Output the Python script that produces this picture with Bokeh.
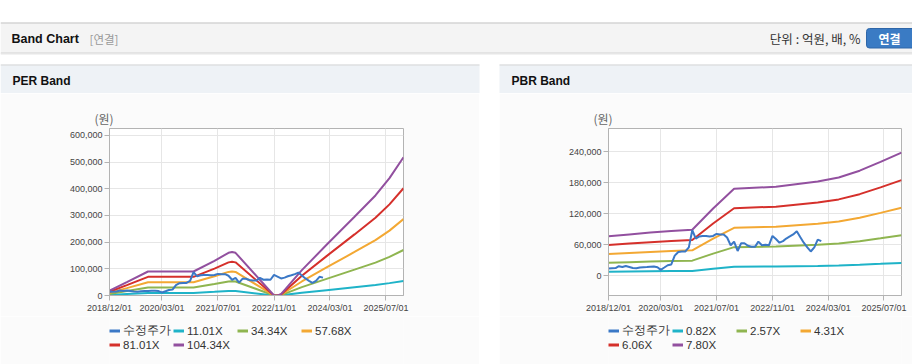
import pandas as pd
from bokeh.plotting import figure
from bokeh.models import (Range1d, FixedTicker, DatetimeTickFormatter, NumeralTickFormatter,
                          Legend, LegendItem, Spacer)
from bokeh.layouts import column, row
from bokeh.embed import file_html
from bokeh.resources import INLINE
from bokeh.core.properties import value

# ---------------- data ----------------
price_start = "2018-12-01"
price_values = [14000, 14500, 15000, 18500, 17000, 19000, 17000, 15000, 14500, 16000,
                16500, 17000, 17500, 18000, 16500, 11500, 16000, 20500, 22000, 39000,
                46000, 47000, 47000, 55000, 88000, 72000, 76000, 77000, 77000, 76000,
                77000, 81000, 80000, 80000, 74000, 59000, 66000, 48000, 63000, 63000,
                58000, 56000, 56000, 66000, 59000, 60000, 59000, 77000, 71000, 64000,
                67000, 72000, 76000, 80000, 86000, 75000, 64000, 55000, 47000, 55000,
                70000, 67000]

per_dates = ["2018-12-01", "2019-05-01", "2019-11-01", "2020-12-01", "2021-06-01", "2021-10-01",
             "2021-11-01", "2021-12-01", "2022-11-01", "2022-12-01", "2023-01-01", "2023-07-01",
             "2024-02-01", "2024-10-01", "2025-04-01", "2025-08-01", "2025-12-01"]
per_11_01x = [1900, 5300, 9500, 9500, 13700, 16900, 17200, 16900, 0, 0, 500, 10000,
              20000, 31100, 39600, 46400, 54600]
per_34_34x = [5900, 16500, 29600, 29600, 42800, 52700, 53600, 52700, 0, 0, 1600, 31300,
              62500, 97100, 123400, 144800, 170500]
per_57_68x = [9950, 27600, 49800, 49800, 71900, 88400, 90100, 88400, 0, 0, 2800, 52500,
              105000, 163100, 207300, 243200, 286400]
per_81_01x = [14000, 38800, 69900, 69900, 100900, 124200, 126600, 124200, 0, 0, 3900, 73800,
              147500, 229000, 291200, 341600, 402200]
per_104_34x = [18000, 50000, 90000, 90000, 130000, 160000, 163000, 160000, 0, 0, 5000, 95000,
               190000, 295000, 375000, 440000, 518000]

pbr_dates = ["2018-12-01", "2019-06-01", "2019-12-01", "2020-06-01", "2020-12-01", "2021-06-01",
             "2021-12-01", "2022-12-01", "2023-12-01", "2024-06-01", "2024-12-01", "2025-06-01",
             "2025-12-01"]
pbr_0_82x = [8000, 8400, 8800, 9100, 9400, 13700, 17700, 18100, 19100, 20000, 21300, 23100, 25000]
pbr_2_57x = [25200, 26400, 27500, 28500, 29300, 42800, 55400, 56700, 60000, 62600, 66900, 72500, 78400]
pbr_4_31x = [42300, 44200, 46100, 47800, 49200, 71800, 92800, 95000, 100600, 105000, 112200, 121600, 131500]
pbr_6_06x = [59400, 62200, 64900, 67200, 69100, 101000, 130500, 133600, 141400, 147600, 157700, 170900, 184900]
pbr_7_80x = [76500, 80000, 83500, 86500, 89000, 130000, 168000, 172000, 182000, 190000, 203000, 220000, 238000]

per_labels = ["수정주가", "11.01X", "34.34X", "57.68X", "81.01X", "104.34X"]
pbr_labels = ["수정주가", "0.82X", "2.57X", "4.31X", "6.06X", "7.80X"]
x_tick_labels = ["2018/12/01", "2020/03/01", "2021/07/01", "2022/11/01", "2024/03/01", "2025/07/01"]
x_start, x_end = "2018-12-01", "2025-12-01"
per_y_ticks = [0, 100000, 200000, 300000, 400000, 500000, 600000]
pbr_y_ticks = [0, 60000, 120000, 180000, 240000]

colors = ["#3b78c6", "#1fb3c8", "#8fb550", "#f3a833", "#d5302b", "#92509f"]

FONT = "Liberation Sans"
KFONT = "Noto Sans CJK KR"
PANEL = "#fbfbfb"

price_dates = pd.date_range(price_start, periods=len(price_values), freq="MS")


def ms(s):
    return pd.Timestamp(s).value // 10**6


def style_legend(leg):
    leg.label_text_font = FONT
    leg.label_text_font_size = "11.5px"
    leg.label_text_color = "#333333"
    leg.glyph_width = 11
    leg.glyph_height = 13
    leg.label_height = 13
    leg.label_width = 50
    leg.label_standoff = 3
    leg.spacing = 0
    leg.padding = 0
    leg.margin = 0
    leg.border_line_color = None
    leg.background_fill_alpha = 0


def add_series(p, dates, bands, width):
    d = pd.to_datetime(dates)
    rs = [p.line(d, vals, line_color=c, line_width=width) for vals, c in zip(bands, colors[1:])]
    r_price = p.line(price_dates, price_values, line_color=colors[0], line_width=width)
    return [r_price] + rs


def make_chart(width, left, right, y_lo, y_hi, y_ticks, dates, bands):
    p = figure(width=width, height=223, x_axis_type="datetime", output_backend="svg",
               toolbar_location=None,
               x_range=Range1d(pd.Timestamp(x_start), pd.Timestamp(x_end)),
               y_range=Range1d(y_lo, y_hi),
               min_border_left=left, min_border_right=right, min_border_top=35,
               min_border_bottom=21)
    p.title.text = "(원)"
    p.title.align = "left"
    p.title.offset = -15
    p.title.standoff = 4
    p.title.text_font = KFONT
    p.title.text_font_size = "12px"
    p.title.text_font_style = "normal"
    p.title.text_color = "#666666"

    p.background_fill_color = "white"
    p.border_fill_color = PANEL
    p.outline_line_color = "#b3b3b3"

    p.xaxis.ticker = FixedTicker(ticks=[ms(pd.to_datetime(t, format="%Y/%m/%d")) for t in x_tick_labels])
    fmt = "%Y/%m/%d"
    p.xaxis.formatter = DatetimeTickFormatter(days=fmt, months=fmt, years=fmt, hours=fmt,
                                              hourmin=fmt)
    p.yaxis.ticker = FixedTicker(ticks=y_ticks)
    p.yaxis.formatter = NumeralTickFormatter(format="0,0")
    for ax in (p.xaxis, p.yaxis):
        ax.axis_line_color = "#b3b3b3"
        ax.major_tick_line_color = "#b3b3b3"
        ax.major_tick_out = 5
        ax.major_tick_in = 0
        ax.minor_tick_line_color = None
        ax.major_label_text_font = FONT
        ax.major_label_text_font_size = "9px"
        ax.major_label_text_color = "#444444"
        ax.major_label_standoff = 2
    p.xgrid.grid_line_color = "#e6e6e6"
    p.ygrid.grid_line_color = "#e6e6e6"

    add_series(p, dates, bands, 2)
    return p


def make_legend(width, labels, dates, bands):
    # the same series, kept outside this strip's view, only feed the legend swatches
    f = figure(width=width, height=48, x_range=Range1d(0, 1), y_range=Range1d(0, 1),
               output_backend="svg", toolbar_location=None, min_border=0,
               min_border_left=0, min_border_right=0, min_border_top=0, min_border_bottom=0)
    f.axis.visible = False
    f.grid.visible = False
    f.outline_line_color = None
    f.background_fill_color = PANEL
    f.border_fill_color = PANEL
    swatches = add_series(f, dates, bands, 3)
    items = [LegendItem(label=lab, renderers=[r]) for lab, r in zip(labels, swatches)]
    leg1 = Legend(items=items[:4], orientation="horizontal", location=(0, 26))
    leg2 = Legend(items=items[4:], orientation="horizontal", location=(0, 13))
    style_legend(leg1)
    style_legend(leg2)
    f.add_layout(leg1, "center")
    f.add_layout(leg2, "center")
    return f


per_bands = [per_11_01x, per_34_34x, per_57_68x, per_81_01x, per_104_34x]
pbr_bands = [pbr_0_82x, pbr_2_57x, pbr_4_31x, pbr_6_06x, pbr_7_80x]
per = make_chart(479, 109, 76, 0, 626000, per_y_ticks, per_dates, per_bands)
pbr = make_chart(413, 109, 11, -38000, 284500, pbr_y_ticks, pbr_dates, pbr_bands)
per_leg = make_legend(479, per_labels, per_dates, per_bands)
pbr_leg = make_legend(413, pbr_labels, pbr_dates, pbr_bands)

# ---------------- header ----------------
h = figure(width=912, height=93, x_range=Range1d(0, 912), y_range=Range1d(93, 0),
           output_backend="svg", toolbar_location=None, min_border=0,
           min_border_left=0, min_border_right=0, min_border_top=0, min_border_bottom=0)
h.axis.visible = False
h.grid.visible = False
h.outline_line_color = None
h.background_fill_color = "white"
h.border_fill_color = "white"

h.quad(left=[0], right=[912], top=[22], bottom=[52], fill_color="#f4f4f4", line_color=None)
h.segment(x0=[0], y0=[22.5], x1=[912], y1=[22.5], line_color="#c4c4c4", line_width=1)
h.segment(x0=[0], y0=[52.5], x1=[912], y1=[52.5], line_color="#cdcdcd", line_width=1)
h.segment(x0=[0], y0=[53.5], x1=[912], y1=[53.5], line_color="#e6e6e6", line_width=1)
h.quad(left=[866], right=[918], top=[28], bottom=[47.5], fill_color="#3a7bc4",
       line_color="#2e66a8", border_radius=3)

h.quad(left=[0, 499], right=[479, 912], top=[64, 64], bottom=[93, 93],
       fill_color="#eef2f6", line_color=None)
h.segment(x0=[0, 499], y0=[64.5, 64.5], x1=[479, 912], y1=[64.5, 64.5],
          line_color="#d6d6d6", line_width=1)

h.text(x=[11], y=[38], text=["Band Chart"], text_font=value(FONT), text_font_style="bold",
       text_font_size="12.5px", text_baseline="middle", text_color="#111111")
h.text(x=[89], y=[38], text=["[연결]"], text_font=value(KFONT),
       text_font_size="11.5px", text_baseline="middle", text_color="#999999")
h.text(x=[860], y=[38], text=["단위 : 억원, 배, %"], text_font=value(KFONT),
       text_font_size="12.5px", text_baseline="middle", text_align="right", text_color="#333333")
h.text(x=[889], y=[37.5], text=["연결"], text_font=value(KFONT), text_font_style="bold",
       text_font_size="12px", text_baseline="middle", text_align="center", text_color="white")
h.text(x=[12, 511], y=[80.5, 80.5], text=["PER Band", "PBR Band"], text_font=value(FONT),
       text_font_style="bold", text_font_size="12px", text_baseline="middle",
       text_color="#111111")

layout = column(
    h,
    row(column(per, per_leg, spacing=0), Spacer(width=20, height=271),
        column(pbr, pbr_leg, spacing=0), spacing=0),
    spacing=0)

open("out.html", "w").write(file_html(layout, INLINE))
